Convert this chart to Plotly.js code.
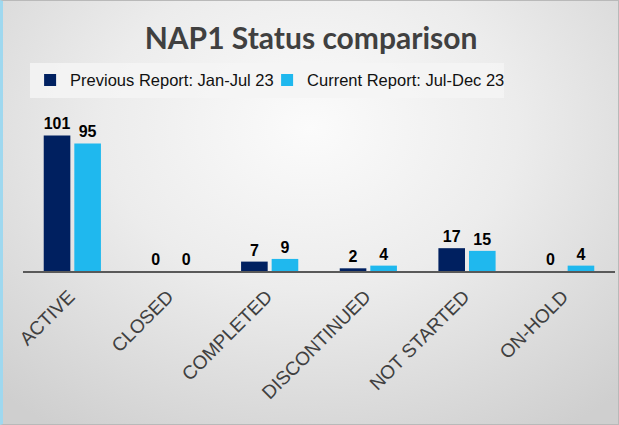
<!DOCTYPE html>
<html><head><meta charset="utf-8">
<script src="https://cdn.plot.ly/plotly-3.0.1.min.js"></script>
<style>
html,body{margin:0;padding:0;}
#chart{width:619px;height:425px;box-sizing:border-box;border:1px solid #b9b9b9;border-left:3px solid #9fd8ef;
background:radial-gradient(ellipse 75% 85% at 50% 30%, #fbfbfb 0%, #ececec 45%, #cfcfcf 100%);}
</style></head><body>
<div id="chart"></div>
<script>
const categories = ["ACTIVE","CLOSED","COMPLETED","DISCONTINUED","NOT STARTED","ON-HOLD"];
const previousValues = [101,0,7,2,17,0];
const currentValues = [95,0,9,4,15,4];
const seriesNames = ["Previous Report: Jan-Jul 23","Current Report: Jul-Dec 23"];

const common = {type:"bar", textposition:"outside", cliponaxis:false,
  textfont:{family:"Liberation Sans, Arial, sans-serif", size:16, color:"#000000", weight:"bold"}};
const data = [
  Object.assign({}, common, {x:categories, y:previousValues, name:seriesNames[0], text:previousValues.map(String),
    marker:{color:"#002060"}}),
  Object.assign({}, common, {x:categories, y:currentValues, name:seriesNames[1], text:currentValues.map(String),
    marker:{color:"#1fb8ee"}})
];
const layout = {
  width:616, height:423,
  paper_bgcolor:"rgba(0,0,0,0)", plot_bgcolor:"rgba(0,0,0,0)",
  margin:{l:20, r:4, t:125, b:153},
  title:{text:"<b>NAP1 Status comparison</b>", x:0.5, xanchor:"center", y:0.912, yanchor:"middle",
    font:{family:"Lato, Open Sans, sans-serif", size:30, color:"#404040"}},
  showlegend:true,
  legend:{orientation:"h", x:0.012, xanchor:"left", y:1.315, yanchor:"middle",
    entrywidth:192, entrywidthmode:"pixels",
    bgcolor:"rgba(245,245,245,0.85)", font:{family:"Liberation Sans, Arial, sans-serif", size:16.5, color:"#111111"},
    itemwidth:30, traceorder:"normal"},
  bargap:0.38, bargroupgap:0.13,
  xaxis:{tickangle:-45, showline:true, linecolor:"#595959", linewidth:2, ticks:"", ticklabelstandoff:5, ticklabelshift:-3,
    tickfont:{family:"Liberation Sans, Arial, sans-serif", size:19, color:"#404040"}, fixedrange:true},
  yaxis:{range:[0,108], visible:false, showgrid:false, zeroline:false, fixedrange:true}
};
Plotly.newPlot("chart", data, layout, {displayModeBar:false, staticPlot:true});
</script></body></html>
